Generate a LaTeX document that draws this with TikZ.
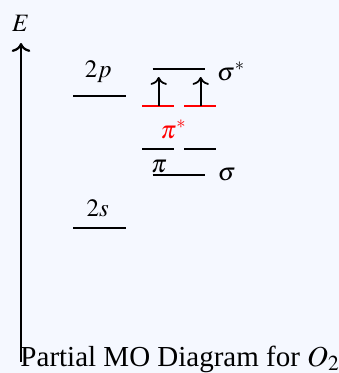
\documentclass[tikz,border=0pt]{standalone}
\usepackage{mathptmx}
\usepackage{fontspec}
\setmainfont{Liberation Serif}
\usepackage{xcolor}
\usepackage{tikz}
\usetikzlibrary{positioning, arrows.meta}
\definecolor{bgblue}{RGB}{245,248,255}

\begin{document}
\begin{tikzpicture}[x=0.4pt, y=-0.4pt,
    lvl/.style={line width=0.8pt},
    axisline/.style={->, line width=0.9pt},
    spin/.style={->, line width=0.7pt},
    lbl/.style={anchor=base west, inner sep=0pt, font=\normalsize},
]
\fill[bgblue] (0,0) rectangle (339,373);
\useasboundingbox (0,0) rectangle (339,373);

% energy axis
\coordinate (ax0) at (21,362);
\coordinate (ax1) at (21,43);
\draw[axisline] (ax0) -- (ax1);
\node[lbl] (E) at (11.7,31.7) {$E$};

% energy levels
\foreach \n/\xa/\xb/\y in {p2/73.3/125.7/95.7, s2/73.3/126/228.3,
    sgs/152.7/205.3/69, sg/152.7/205.3/175.3,
    pia/142/173.7/148.7, pib/184/216.3/148.7} {
    \coordinate (\n-l) at (\xa,\y);
    \coordinate (\n-r) at (\xb,\y);
    \draw[lvl] (\n-l) -- (\n-r);
}
\foreach \n/\xa/\xb in {psa/142/173.7, psb/184/216.3} {
    \coordinate (\n-l) at (\xa,106);
    \coordinate (\n-r) at (\xb,106);
    \draw[lvl, red] (\n-l) -- (\n-r);
}

% unpaired electrons
\coordinate (psa-m) at (158.7,106);
\coordinate (psb-m) at (200.7,106);
\coordinate (upa) at (158.7,77);
\coordinate (upb) at (200.7,77);
\foreach \a/\b in {psa-m/upa, psb-m/upb}
    \draw[spin] (\a) -- (\b);

\node[lbl] (l2p) at (84.3,77) {$2p$};
\node[lbl] (l2s) at (86,216.7) {$2s$};
\node[lbl] (lsgs) at (216.7,80) {$\sigma^*$};
\node[lbl] (lsg) at (217.3,180) {$\sigma$};
\node[lbl, text=red] (lpis) at (160,138) {$\pi^*$};
\node[lbl] (lpi) at (150.7,172) {$\pi$};

\node[lbl, font=\fontsize{11.6}{14}\selectfont] (title) at (20,366)
    {Partial MO Diagram for $O_2$};
\end{tikzpicture}
\end{document}
